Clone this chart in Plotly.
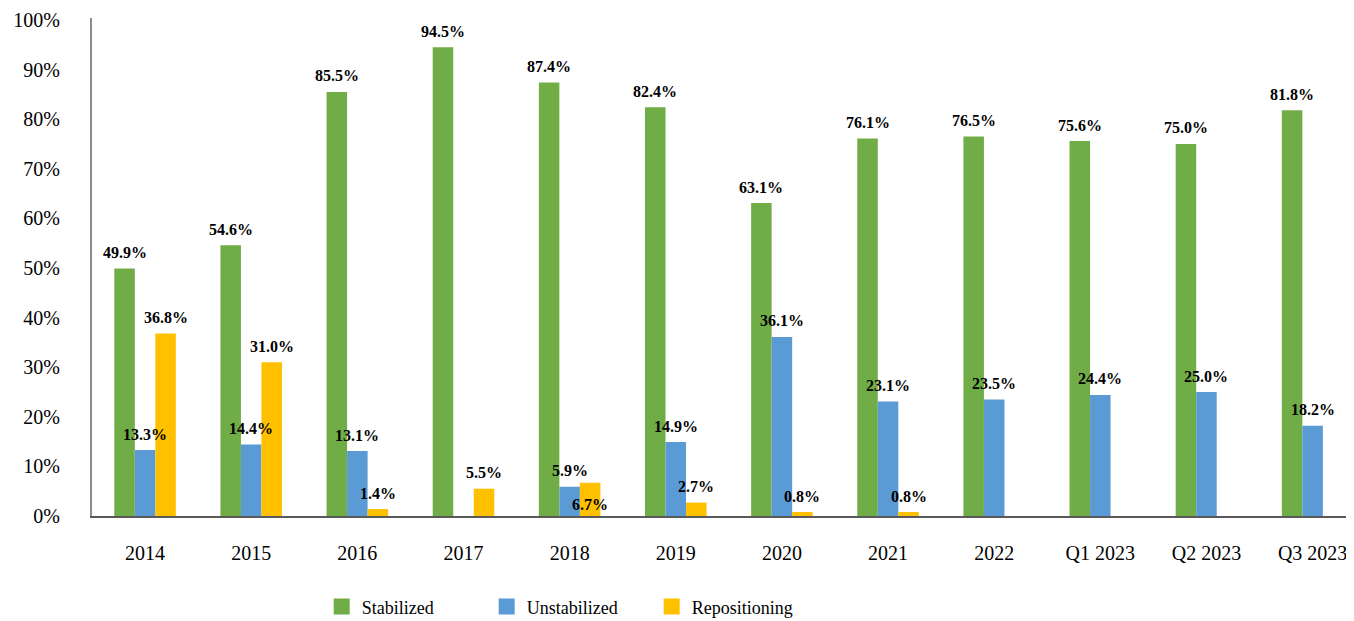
import plotly.graph_objects as go

categories = ["2014", "2015", "2016", "2017", "2018", "2019", "2020", "2021",
              "2022", "Q1 2023", "Q2 2023", "Q3 2023"]
stabilized = [49.9, 54.6, 85.5, 94.5, 87.4, 82.4, 63.1, 76.1, 76.5, 75.6, 75.0, 81.8]
unstabilized = [13.3, 14.4, 13.1, None, 5.9, 14.9, 36.1, 23.1, 23.5, 24.4, 25.0, 18.2]
repositioning = [36.8, 31.0, 1.4, 5.5, 6.7, 2.7, 0.8, 0.8, None, None, None, None]
y_ticks = list(range(0, 101, 10))
y_tick_labels = [f"{t}%" for t in y_ticks]

series = [
    ("Stabilized", stabilized, "#70AD47"),
    ("Unstabilized", unstabilized, "#5B9BD5"),
    ("Repositioning", repositioning, "#FFC000"),
]

# labels drawn inside the bar (to avoid collisions)
inside_labels = {("Repositioning", "2018")}

BARGAP = 0.42
SERIF = "Liberation Serif"

fig = go.Figure()
for name, vals, color in series:
    fig.add_trace(go.Bar(
        x=categories, y=vals, name=name, marker=dict(color=color, line=dict(width=0)),
        showlegend=False, hoverinfo="x+y+name",
    ))
# legend markers (bigger squares)
for name, vals, color in series:
    fig.add_trace(go.Scatter(
        x=[None], y=[None], mode="markers", name=name,
        marker=dict(symbol="square", size=16, color=color, line=dict(width=0)),
    ))

w = (1 - BARGAP) / len(series)
annotations = []
for s_idx, (name, vals, color) in enumerate(series):
    for c_idx, (cat, v) in enumerate(zip(categories, vals)):
        if v is None:
            continue
        xpos = c_idx + (s_idx - (len(series) - 1) / 2) * w
        if (name, cat) in inside_labels:
            ypos, yshift = v / 2, -5
        else:
            ypos, yshift = v, 16
        annotations.append(dict(
            x=xpos, y=ypos, xref="x", yref="y", text=f"<b>{v:.1f}%</b>",
            showarrow=False, yanchor="middle", xanchor="center", yshift=yshift,
            font=dict(family=SERIF, size=16, color="#000000"),
        ))

fig.update_layout(
    width=1346, height=613,
    margin=dict(l=84, r=0, t=10, b=105),
    paper_bgcolor="white", plot_bgcolor="white",
    barmode="group", bargap=BARGAP, bargroupgap=0,
    font=dict(family=SERIF, color="#000000"),
    annotations=annotations,
    legend=dict(
        orientation="h", x=0.182, xanchor="left",
        yref="container", y=0.023, yanchor="middle",
        font=dict(family=SERIF, size=18, color="#000000"),
        entrywidth=120, itemwidth=30,
    ),
    xaxis=dict(
        type="category", range=[-0.5, 11.39],
        showline=True, linecolor="#595959", linewidth=2,
        ticks="", showgrid=False, zeroline=False,
        tickfont=dict(family=SERIF, size=20, color="#000000"),
        ticklabelstandoff=18,
    ),
    yaxis=dict(
        range=[0, 100.4], tickvals=y_ticks, ticktext=y_tick_labels,
        showline=True, linecolor="#8C8C8C", linewidth=2,
        ticks="", showgrid=False, zeroline=False,
        tickfont=dict(family=SERIF, size=20, color="#000000"),
        ticklabelstandoff=26,
    ),
)

fig.write_html("out.html")
